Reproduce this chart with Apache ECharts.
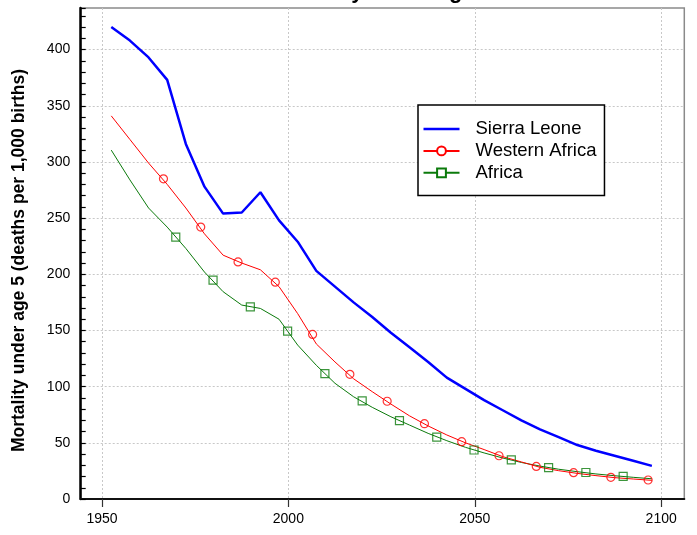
<!DOCTYPE html>
<html>
<head>
<meta charset="utf-8">
<script src="https://cdn.jsdelivr.net/npm/echarts@6/dist/echarts.min.js"></script>
<style>
  html, body { margin: 0; padding: 0; background: #fff; }
  #chart { width: 697px; height: 535px; }
</style>
</head>
<body>
<div id="chart"></div>
<script>
// ---- data ----
const titleText = 'Mortality under age 5';
const yAxisTitle = 'Mortality under age 5 (deaths per 1,000 births)';
const seriesNames = ['Sierra Leone', 'Western Africa', 'Africa'];

const years = [1952.5, 1957.5, 1962.5, 1967.5, 1972.5, 1977.5, 1982.5, 1987.5, 1992.5, 1997.5,
               2002.5, 2007.5, 2012.5, 2017.5, 2022.5, 2027.5, 2032.5, 2037.5, 2042.5, 2047.5,
               2052.5, 2057.5, 2062.5, 2067.5, 2072.5, 2077.5, 2082.5, 2087.5, 2092.5, 2097.5];

const sierraLeone = [420, 408, 393, 373, 316, 278, 254, 255, 273, 248,
                     229, 203, 189, 175, 162, 148, 135, 122, 108, 98,
                     88, 79, 70, 62, 55, 48, 43, 38.5, 34, 29.5];

const westernAfrica = [341, 320, 299, 280, 259, 236, 217, 210, 204, 189,
                       165, 138, 122, 107, 95.5, 84.5, 74, 65, 57, 50,
                       44, 37.7, 33, 28.2, 25.2, 22.8, 20.8, 19, 17.8, 16.6];

const africa = [310.5, 284, 259, 242, 223, 202, 184.5, 172.6, 169.6, 160,
                137, 119, 103, 91, 81.6, 73.2, 65.8, 58.4, 51.9, 46,
                41, 36.5, 32.5, 29.3, 26.5, 24.3, 22.3, 20.7, 19.3, 18];

// marker positions (as drawn in the reference)
const westernMarkerYears = [1966.5, 1976.5, 1986.5, 1996.5, 2006.5, 2016.5, 2026.5, 2036.5, 2046.5, 2056.5, 2066.5, 2076.5, 2086.5, 2096.5];
const westernMarkerValues = [285, 242, 211, 193, 146.5, 111, 87, 67, 51, 38.5, 29, 23.4, 19.3, 16.9];
const africaMarkerYears = [1969.8, 1979.8, 1989.8, 1999.8, 2009.8, 2019.8, 2029.8, 2039.8, 2049.8, 2059.8, 2069.8, 2079.8, 2089.8];
const africaMarkerValues = [233, 194.8, 171, 149.5, 111.5, 87.3, 69.7, 55, 43.6, 34.8, 28, 23.6, 20.1];

const xTicks = [1950, 2000, 2050, 2100];

// ---- build chart ----
const pair = (xs, ys) => xs.map((x, i) => [x, ys[i]]);
const FONT = '"Liberation Sans", Arial, sans-serif';
const gridLine = { show: true, lineStyle: { color: '#c8c8c8', type: [2, 2], width: 1 } };
// plain line legend icon (bounding box 36x11, visible bar in the middle)
const plainLineIcon = 'path://M0,0L0,0ZM0,4.25L36,4.25L36,6.75L0,6.75ZM36,11L36,11Z';

const chart = echarts.init(document.getElementById('chart'), null, { renderer: 'canvas' });
chart.setOption({
  animation: false,
  backgroundColor: '#ffffff',
  textStyle: { fontFamily: FONT },
  grid: { left: 80.7, right: 12.7, top: 8, bottom: 36, show: true, borderColor: '#8a8a8a', borderWidth: 1.5, containLabel: false },
  graphic: [
    { type: 'text', x: 382.5, y: 2.5, z: 100,
      style: { text: titleText, font: 'bold 22px ' + FONT, fill: '#000', textAlign: 'center', textVerticalAlign: 'bottom' } },
    { type: 'text', x: 18.8, y: 260.5, rotation: Math.PI / 2, z: 100,
      style: { text: yAxisTitle, font: 'bold 17.5px ' + FONT, fill: '#000', textAlign: 'center', textVerticalAlign: 'middle' } }
  ],
  legend: {
    data: [
      { name: seriesNames[0], icon: plainLineIcon, itemStyle: { color: '#0000ff' } },
      { name: seriesNames[1] },
      { name: seriesNames[2] }
    ],
    orient: 'vertical',
    left: 418, top: 105,
    padding: [14.5, 8, 13.2, 4.5],
    borderColor: '#000', borderWidth: 1.5,
    backgroundColor: '#fff',
    itemWidth: 36, itemHeight: 11, itemGap: 2.9,
    textStyle: { fontSize: 18.5, color: '#000', fontFamily: FONT, padding: [0, 0, 0, 11] },
    selectedMode: false
  },
  xAxis: {
    type: 'value', min: 1944.3, max: 2106.2,
    axisLine: { show: true, lineStyle: { color: '#111', width: 2 } },
    axisTick: { show: true, customValues: xTicks, length: 8, inside: false, lineStyle: { color: '#333', width: 1.2 } },
    axisLabel: { customValues: xTicks, fontSize: 14, color: '#000', margin: 13, fontFamily: FONT,
                 formatter: v => String(v) },
    splitLine: gridLine
  },
  yAxis: [
    {
      type: 'value', min: 0, max: 437, interval: 50, position: 'left',
      axisLine: { show: true, lineStyle: { color: '#000', width: 2.5 } },
      axisTick: { show: false },
      axisLabel: { fontSize: 14, color: '#000', margin: 10.5, fontFamily: FONT, showMaxLabel: false },
      splitLine: Object.assign({ showMaxLine: false }, gridLine)
    },
    {
      type: 'value', min: 0, max: 437, interval: 10, position: 'left',
      axisLine: { show: false },
      axisTick: { show: true, inside: true, length: 5, lineStyle: { color: '#000', width: 1.2 } },
      axisLabel: { show: false },
      splitLine: { show: false }
    }
  ],
  series: [
    { name: seriesNames[0], type: 'line', data: pair(years, sierraLeone), showSymbol: false, symbol: 'none',
      lineStyle: { color: '#0000ff', width: 2.5 }, itemStyle: { color: '#0000ff' }, z: 4 },
    { name: seriesNames[1], type: 'line', data: pair(years, westernAfrica), showSymbol: false, symbol: 'emptyCircle',
      lineStyle: { color: '#ff0000', width: 1 }, itemStyle: { color: '#ff0000', borderWidth: 1.2 }, z: 3 },
    { name: seriesNames[2], type: 'line', data: pair(years, africa), showSymbol: false, symbol: 'emptyRect',
      lineStyle: { color: '#0b7a0b', width: 1 }, itemStyle: { color: '#0b7a0b', borderWidth: 1.2 }, z: 2 },
    { name: 'Western Africa markers', type: 'scatter', data: pair(westernMarkerYears, westernMarkerValues),
      symbol: 'circle', symbolSize: 8,
      itemStyle: { color: 'rgba(255,255,255,0)', borderColor: '#ff0000', borderWidth: 1.2 }, z: 6 },
    { name: 'Africa markers', type: 'scatter', data: pair(africaMarkerYears, africaMarkerValues),
      symbol: 'rect', symbolSize: 8,
      itemStyle: { color: 'rgba(255,255,255,0)', borderColor: '#0b7a0b', borderWidth: 1.2 }, z: 5 }
  ]
});
</script>
</body>
</html>
